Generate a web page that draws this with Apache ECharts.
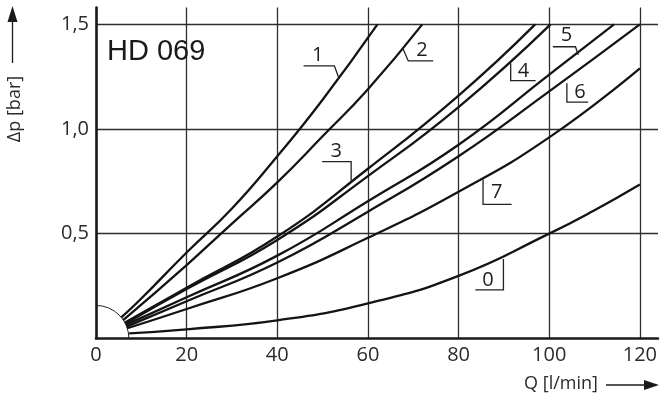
<!DOCTYPE html>
<html><head><meta charset="utf-8">
<script src="https://cdn.jsdelivr.net/npm/echarts@6.0.0/dist/echarts.min.js"></script>
<style>html,body{margin:0;padding:0;background:#fff}#c{width:660px;height:414px}</style>
</head><body><div id="c"></div>
<script>
// ---- data ----
const xTicks = [0, 20, 40, 60, 80, 100, 120];
const yTicks = [0.5, 1.0, 1.5];
const yTickLabels = ['0,5', '1,0', '1,5'];
const curveNames = ['1', '2', '3', '4', '5', '6', '7', '0'];
const q1 = [5.6, 10, 20, 30, 40, 50, 62.1];
const p1 = [0.10, 0.19, 0.41, 0.62, 0.87, 1.14, 1.5];
const q2 = [6.0, 20, 30, 40, 50, 60, 72];
const p2 = [0.087, 0.35, 0.548, 0.745, 0.965, 1.19, 1.5];
const q3 = [6.4, 20, 40, 60, 80, 96.9];
const p3 = [0.075, 0.242, 0.486, 0.81, 1.16, 1.5];
const q4 = [6.5, 20, 40, 60, 80, 100.3];
const p4 = [0.07, 0.235, 0.47, 0.775, 1.105, 1.5];
const q5 = [6.6, 20, 40, 60, 80, 100, 114.3];
const p5 = [0.064, 0.196, 0.395, 0.655, 0.925, 1.26, 1.5];
const q6 = [6.75, 20, 40, 60, 80, 100, 120];
const p6 = [0.056, 0.177, 0.362, 0.605, 0.87, 1.18, 1.5];
const q7 = [6.9, 20, 40, 60, 80, 100, 120];
const p7 = [0.048, 0.14, 0.287, 0.48, 0.70, 0.96, 1.29];
const q0 = [7.3, 20, 40, 60, 80, 100, 110, 120];
const p0 = [0.024, 0.043, 0.086, 0.167, 0.298, 0.5, 0.612, 0.735];
const title = 'HD 069';
const xName = 'Q [l/min]';
const yName = 'Δp [bar]';

// ---- annotation layout (data coordinates) ----
const labelLayout = [
  {t: '1', text: [48.9, 1.353], path: [[45.8, 1.302], [52.6, 1.302], [53.6, 1.242]]},
  {t: '2', text: [71.9, 1.377], path: [[67.7, 1.386], [68.9, 1.325], [74.4, 1.325]]},
  {t: '3', text: [53.0, 0.893], path: [[49.9, 0.844], [56.3, 0.844], [56.3, 0.743]]},
  {t: '4', text: [94.3, 1.275], path: [[91.5, 1.314], [91.5, 1.231], [97.0, 1.231]]},
  {t: '5', text: [103.8, 1.447], path: [[100.8, 1.393], [105.8, 1.393], [106.4, 1.354]]},
  {t: '6', text: [106.8, 1.174], path: [[103.9, 1.218], [103.9, 1.128], [108.6, 1.128]]},
  {t: '7', text: [88.4, 0.697], path: [[85.4, 0.760], [85.4, 0.640], [91.7, 0.640]]},
  {t: '0', text: [86.5, 0.279], path: [[83.7, 0.231], [89.9, 0.231], [89.9, 0.379]]}
];

const qs = [q1, q2, q3, q4, q5, q6, q7, q0];
const ps = [p1, p2, p3, p4, p5, p6, p7, p0];
const chart = echarts.init(document.getElementById('c'), null, {renderer: 'canvas'});
const numFont = '"Open Sans", "DejaVu Sans", sans-serif';

const series = curveNames.map((n, i) => ({
  name: n, type: 'line', showSymbol: false, smooth: 0.5,
  lineStyle: {color: '#141414', width: 2.3}, silent: true,
  data: qs[i].map((q, j) => [q, ps[i][j]])
}));

chart.setOption({
  animation: false,
  grid: {left: 96, top: 7.6, width: 563.2, bottom: 75.7, containLabel: false},
  xAxis: {
    type: 'value', min: xTicks[0], max: 124, interval: xTicks[1] - xTicks[0],
    axisLine: {lineStyle: {color: '#1a1a1a', width: 2.6}},
    axisTick: {show: false},
    axisLabel: {showMaxLabel: false, fontSize: 20, color: '#2b2b2b', margin: 7, fontFamily: numFont,
      formatter: v => xTicks.indexOf(v) >= 0 ? String(v) : ''},
    splitLine: {show: true, showMaxLine: false, lineStyle: {color: '#2e2e2e', width: 1.3}}
  },
  yAxis: {
    type: 'value', min: 0, max: 1.58, interval: 0.5,
    axisLine: {lineStyle: {color: '#1a1a1a', width: 2.6}},
    axisTick: {show: false},
    axisLabel: {showMaxLabel: false, fontSize: 20, color: '#2b2b2b', margin: 7, fontFamily: numFont,
      formatter: v => { const i = yTicks.findIndex(t => Math.abs(t - v) < 1e-6); return i >= 0 ? yTickLabels[i] : ''; }},
    splitLine: {show: true, showMaxLine: false, showMinLine: false, lineStyle: {color: '#2e2e2e', width: 1.3}}
  },
  series: series
});

// ---- decorations via the chart's own scales ----
const px = (d) => chart.convertToPixel({gridIndex: 0}, d);
const o = px([0, 0]);
const rEnd = px([7.25, 0]);
const r = rEnd[0] - o[0];
const g = [];
g.push({type: 'arc', shape: {cx: o[0], cy: o[1], r: r, startAngle: -Math.PI / 2, endAngle: 0, clockwise: true},
  style: {stroke: '#222', lineWidth: 1, fill: null}, z: 5});
labelLayout.forEach(L => {
  g.push({type: 'polyline', shape: {points: L.path.map(px)}, style: {stroke: '#222', lineWidth: 1.3, fill: null}, z: 10});
  const tp = px(L.text);
  g.push({type: 'text', x: tp[0], y: tp[1], style: {text: L.t, font: '20px ' + numFont, fill: '#1e1e1e', align: 'center', verticalAlign: 'middle'}, z: 10});
});
g.push({type: 'text', x: 107, y: 52, style: {text: title, font: '29px "Liberation Sans", Arial, sans-serif', fill: '#1a1a1a', align: 'left', verticalAlign: 'middle'}, z: 10});
// y axis name with arrow
g.push({type: 'text', x: 15, y: 109, rotation: Math.PI / 2, style: {text: yName, font: '18px ' + numFont, fill: '#2b2b2b', align: 'center', verticalAlign: 'middle'}});
g.push({type: 'line', shape: {x1: 12.5, y1: 63, x2: 12.5, y2: 20}, style: {stroke: '#1a1a1a', lineWidth: 1.3}});
g.push({type: 'polygon', shape: {points: [[12.5, 6], [7.5, 22], [17.5, 22]]}, style: {fill: '#1a1a1a'}});
// x axis name with arrow
g.push({type: 'text', x: 561, y: 384, style: {text: xName, font: '18px ' + numFont, fill: '#2b2b2b', align: 'center', verticalAlign: 'middle'}});
g.push({type: 'line', shape: {x1: 606, y1: 385, x2: 646, y2: 385}, style: {stroke: '#1a1a1a', lineWidth: 1.3}});
g.push({type: 'polygon', shape: {points: [[659, 385], [644, 380], [644, 390]]}, style: {fill: '#1a1a1a'}});
chart.setOption({graphic: g});
</script>
</body></html>
